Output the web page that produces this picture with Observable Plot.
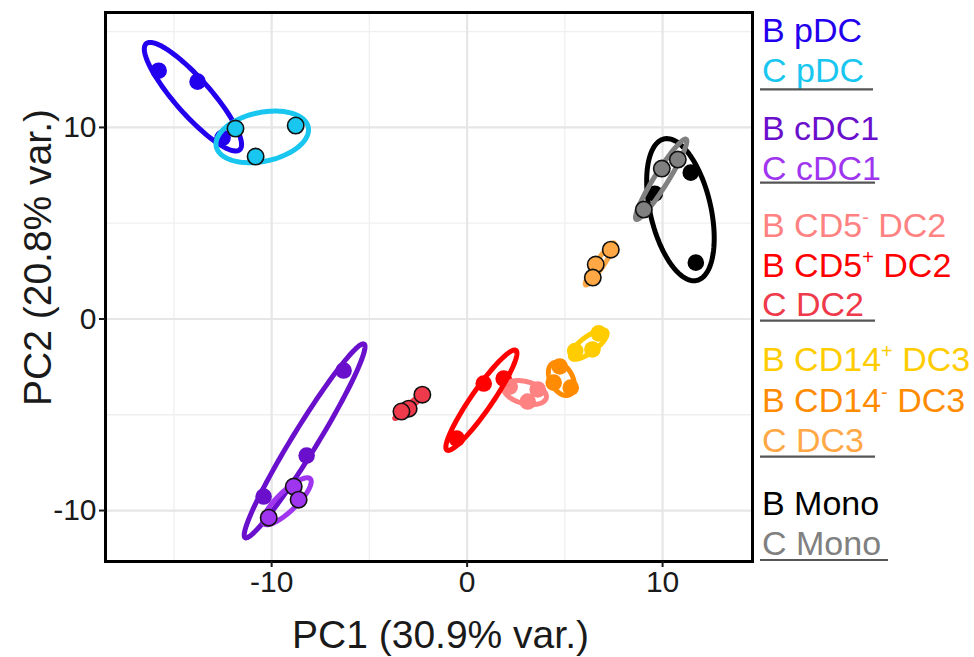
<!DOCTYPE html>
<html>
<head>
<meta charset="utf-8">
<script src="https://cdn.jsdelivr.net/npm/d3@7"></script>
<script src="https://cdn.jsdelivr.net/npm/@observablehq/plot@0.6"></script>
<style>
  body { margin: 0; background: #fff; }
  #chart { width: 974px; height: 657px; }
</style>
</head>
<body>
<div id="chart"></div>
<script>
// ---------------- data ----------------
const groups = ["B pDC", "C pDC", "B cDC1", "C cDC1", "B CD5- DC2", "B CD5+ DC2", "C DC2",
                "B CD14+ DC3", "B CD14- DC3", "C DC3", "B Mono", "C Mono"];
const groupColors = ["#2200EE", "#18C6F0", "#6A10CC", "#A035F0", "#FF8282", "#FF0000", "#EE3A4A",
                     "#FFCC00", "#FF8C00", "#FFA845", "#000000", "#808080"];

const sampleGroup = [
  "B pDC", "B pDC", "B pDC",
  "C pDC", "C pDC", "C pDC",
  "B cDC1", "B cDC1", "B cDC1",
  "C cDC1", "C cDC1", "C cDC1",
  "B CD5- DC2", "B CD5- DC2", "B CD5- DC2",
  "B CD5+ DC2", "B CD5+ DC2", "B CD5+ DC2",
  "C DC2", "C DC2", "C DC2",
  "B CD14+ DC3", "B CD14+ DC3", "B CD14+ DC3",
  "B CD14- DC3", "B CD14- DC3", "B CD14- DC3",
  "C DC3", "C DC3", "C DC3",
  "B Mono", "B Mono", "B Mono",
  "C Mono", "C Mono", "C Mono"
];
const pc1 = [
  -15.78, -13.79, -12.51,
  -11.85, -8.77, -10.82,
  -6.32, -8.21, -10.41,
  -8.87, -8.62, -10.15,
  2.18, 3.61, 3.10,
  0.85, 1.87, -0.53,
  -2.29, -2.99, -3.36,
  6.73, 6.41, 5.53,
  4.74, 4.43, 5.30,
  7.35, 6.58, 6.43,
  11.44, 11.70, 9.60,
  10.78, 9.96, 9.04
];
const pc2 = [
  12.96, 12.39, 9.46,
  9.94, 10.10, 8.48,
  -2.69, -7.13, -9.27,
  -8.75, -9.43, -10.37,
  -3.53, -3.68, -4.31,
  -3.37, -3.11, -6.24,
  -3.95, -4.68, -4.83,
  -0.75, -1.59, -1.67,
  -2.48, -3.32, -3.58,
  3.62, 2.84, 2.16,
  7.64, 2.94, 6.54,
  8.32, 7.85, 5.71
];

const xTicks = [-10, 0, 10];
const yTicks = [-10, 0, 10];
const xMinor = [-15, -5, 5];
const yMinor = [-5, 5, 15];
const xTitle = "PC1 (30.9% var.)";
const yTitle = "PC2 (20.8% var.)";

// legend labels: head, superscript, tail
const legendHead = ["B pDC", "C pDC", "B cDC1", "C cDC1", "B CD5", "B CD5", "C DC2",
                    "B CD14", "B CD14", "C DC3", "B Mono", "C Mono"];
const legendSup  = ["", "", "", "", "-", "+", "", "+", "-", "", "", ""];
const legendTail = ["", "", "", "", " DC2", " DC2", "", " DC3", " DC3", "", "", ""];

// ---------------- derived ----------------
const samples = pc1.map((x, i) => ({group: sampleGroup[i], x, y: pc2[i], cohort: sampleGroup[i][0]}));

// normal-probability data ellipse (68%), ggbiplot style
const ellipseProb = 0.68;
const ed = Math.sqrt(-2 * Math.log(1 - ellipseProb));
const ellipses = [];
for (const g of groups) {
  const pts = samples.filter(d => d.group === g);
  const n = pts.length;
  const mx = d3.mean(pts, d => d.x), my = d3.mean(pts, d => d.y);
  let sxx = 0, syy = 0, sxy = 0;
  for (const p of pts) { sxx += (p.x - mx) ** 2; syy += (p.y - my) ** 2; sxy += (p.x - mx) * (p.y - my); }
  sxx /= n - 1; syy /= n - 1; sxy /= n - 1;
  const a = Math.sqrt(sxx), b = sxy / a, c = Math.sqrt(Math.max(syy - b * b, 0));
  for (let k = 0; k <= 120; k++) {
    const t = -Math.PI + 2 * Math.PI * k / 120;
    ellipses.push({group: g, x: mx + ed * a * Math.cos(t), y: my + ed * (b * Math.cos(t) + c * Math.sin(t))});
  }
}

// ---------------- chart ----------------
const chart = Plot.plot({
  width: 974,
  height: 657,
  marginLeft: 105,
  marginRight: 222,
  marginTop: 12,
  marginBottom: 96,
  style: {fontFamily: "'Liberation Sans', Arial, sans-serif", background: "#fff", color: "#1a1a1a", overflow: "visible"},
  x: {domain: [-18.5, 14.6]},
  y: {domain: [-12.66, 16.0]},
  color: {domain: groups, range: groupColors},
  marks: [
    Plot.gridX(xMinor, {stroke: "#EFEFEF", strokeOpacity: 1, strokeWidth: 1.3}),
    Plot.gridY(yMinor, {stroke: "#EFEFEF", strokeOpacity: 1, strokeWidth: 1.3}),
    Plot.gridX(xTicks, {stroke: "#E6E6E6", strokeOpacity: 1, strokeWidth: 2.2}),
    Plot.gridY(yTicks, {stroke: "#E6E6E6", strokeOpacity: 1, strokeWidth: 2.2}),
    Plot.dot(samples.filter(d => d.cohort === "B"), {x: "x", y: "y", r: 8.3, fill: "group"}),
    Plot.line(ellipses, {x: "x", y: "y", z: "group", stroke: "group", strokeWidth: 5, strokeLinejoin: "round"}),
    Plot.dot(samples.filter(d => d.cohort === "C"), {x: "x", y: "y", r: 8.2, fill: "group", stroke: "#111", strokeWidth: 1.6}),
    Plot.frame({stroke: "#000", strokeWidth: 3}),
    Plot.axisX(xTicks, {tickSize: 6, tickPadding: 3, fontSize: 30, strokeWidth: 2, tickFormat: d => String(d), label: null}),
    Plot.axisY(yTicks, {tickSize: 6, tickPadding: 3, fontSize: 30, strokeWidth: 2, tickFormat: d => String(d), label: null}),
    Plot.text([xTitle], {text: d => d, frameAnchor: "bottom", textAnchor: "middle", dx: 11.5, dy: 74, fontSize: 39, lineAnchor: "middle"}),
    Plot.text([yTitle], {text: d => d, frameAnchor: "left", textAnchor: "middle", rotate: -90, dx: -67, dy: -29.5, fontSize: 39, lineAnchor: "middle"})
  ]
});

// ---------------- legend (right side) ----------------
const svg = d3.select(chart);
const legendX = 762;
const baselines = [41.7, 81.7, 140, 180, 237.3, 276.7, 316, 370.7, 411.7, 451.7, 515, 555];
const lg = svg.append("g")
  .attr("font-family", "'Liberation Sans', Arial, sans-serif")
  .attr("font-size", 34)
  .attr("text-anchor", "start");
groups.forEach((g, i) => {
  const t = lg.append("text")
    .attr("x", legendX)
    .attr("y", baselines[i])
    .attr("fill", groupColors[i])
    .attr("text-anchor", "start")
    .style("white-space", "pre");
  t.append("tspan").text(legendHead[i]);
  if (legendSup[i]) {
    t.append("tspan").attr("dy", -13).attr("font-size", 20).text(legendSup[i]);
    t.append("tspan").attr("dy", 13).text(legendTail[i]);
  }
});
// underline separators beneath each C entry
const underlines = [[89.3, 873], [182.7, 875], [320.7, 875], [456.7, 875], [560, 888]];
underlines.forEach(([y, x2]) => {
  lg.append("line").attr("x1", 760).attr("x2", x2).attr("y1", y).attr("y2", y)
    .attr("stroke", "#555").attr("stroke-width", 2.2);
});

document.getElementById("chart").appendChild(chart);
</script>
</body>
</html>
